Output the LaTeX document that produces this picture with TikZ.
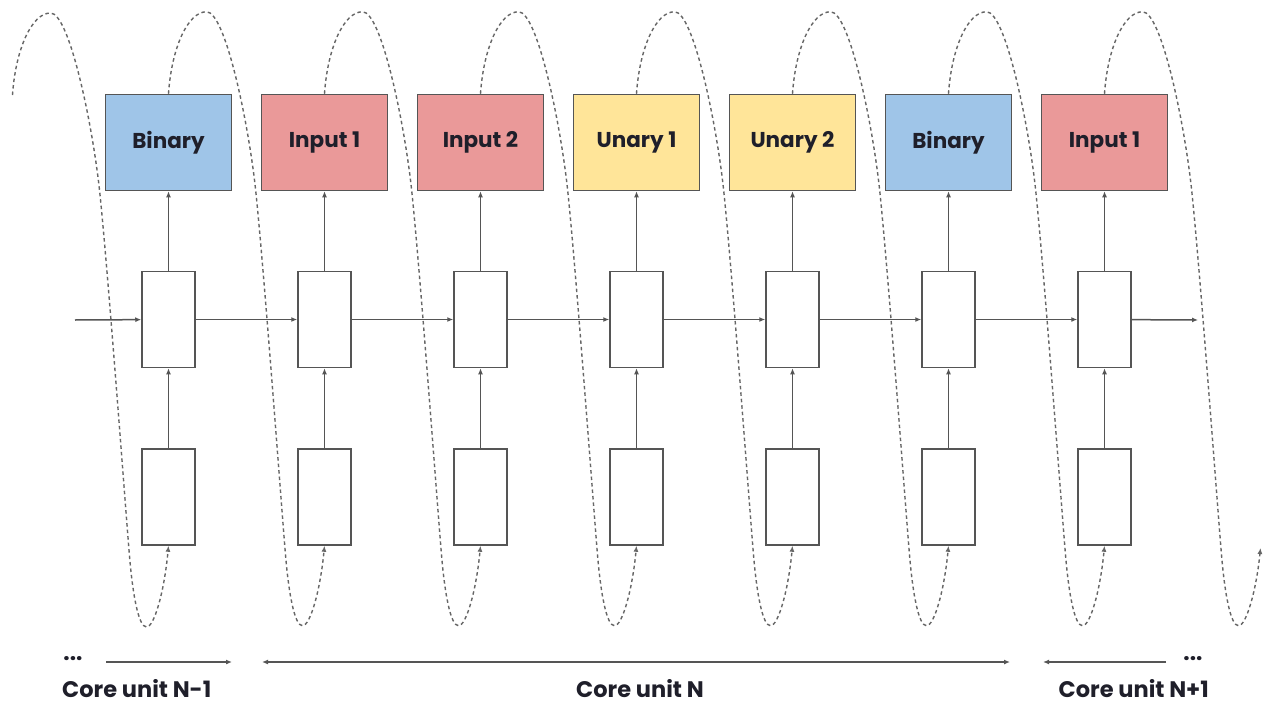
\documentclass[tikz,border=0pt]{standalone}
\usepackage{fontspec}
\setmainfont{Poppins}
\usetikzlibrary{arrows.meta,calc}
\definecolor{bluebox}{HTML}{9FC5E8}
\definecolor{redbox}{HTML}{EA9999}
\definecolor{yelbox}{HTML}{FFE599}
\definecolor{edge}{HTML}{555555}
\definecolor{txt}{HTML}{1F1F2A}
\definecolor{wavec}{HTML}{666666}
\newcommand{\wavefrom}[2]{%
 \draw[wave] (#1) .. controls ($(#1)+(3,-45)$) and ($(#1)+(19,-82)$) .. ($(#1)+(38,-82)$)
  .. controls ($(#1)+(57,-82)$) and ($(#1)+(80,30)$) .. ($(#1)+(87,95)$)
  .. controls ($(#1)+(95,170)$) and ($(#1)+(112,400)$) .. ($(#1)+(116.5,455)$)
  .. controls ($(#1)+(120,500)$) and ($(#1)+(126,532)$) .. ($(#1)+(134,532)$)
  .. controls ($(#1)+(142,532)$) and ($(#1)+(152,495)$) .. (#2);}
\begin{document}
\begin{tikzpicture}[x=1pt,y=-1pt,
  topbox/.style={draw=edge,line width=1.5pt,minimum width=126pt,minimum height=96pt,inner sep=0pt,
     font=\fontsize{21.5}{25}\selectfont\bfseries,text=txt},
  cell/.style={draw=edge,line width=1.5pt,fill=white,minimum width=53pt,minimum height=96pt,inner sep=0pt},
  conn/.style={draw=edge,line width=1.5pt,-{Latex[length=6pt,width=5pt]}},
  wave/.style={draw=wavec,line width=1.4pt,dash pattern=on 3.5pt off 3pt,-{Latex[length=6pt,width=5pt]}},
  lbl/.style={font=\fontsize{22.5}{26}\selectfont\bfseries,text=txt,inner sep=0pt}]
\useasboundingbox (0,0) rectangle (1275,704);
\fill[white] (0,0) rectangle (1275,704);
% columns
\foreach \i/\t/\c in {1/Binary/bluebox,2/Input 1/redbox,3/Input 2/redbox,4/Unary 1/yelbox,5/Unary 2/yelbox,6/Binary/bluebox,7/Input 1/redbox}{
  \pgfmathsetmacro{\cx}{168.5+156*(\i-1)}
  \node[topbox,fill=\c] (t\i) at (\cx,142.5) {\t};
  \node[cell] (m\i) at (\cx,319.5) {};
  \node[cell] (b\i) at (\cx,497) {};
  \draw[conn] (m\i) -- (t\i);
  \draw[conn] (b\i) -- (m\i);
}
% recurrent connections
\coordinate (hin) at (75,320);
\coordinate (hout) at (1198,320);
\draw[conn] (hin) -- (m1);
\foreach \i [evaluate=\i as \j using int(\i+1)] in {1,...,6}{
  \draw[conn] (m\i) -- (m\j);
}
\draw[conn] (m7) -- (hout);
% dashed autoregressive waves
\coordinate (t0) at (12.5,95);
\coordinate (b8) at (1260.5,548);
\wavefrom{t0}{b1.south}
\foreach \i [evaluate=\i as \j using int(\i+1)] in {1,...,6}{
  \wavefrom{t\i.north}{b\j.south}
}
\wavefrom{t7.north}{b8}
% bottom labels
\node[lbl] (d1) at (73,659) {...};
\node[lbl] (d2) at (1193,659) {...};
\coordinate (a1s) at (106,662);
\coordinate (a1e) at (232,662);
\coordinate (a2s) at (262,662);
\coordinate (a2e) at (1010,662);
\coordinate (a3s) at (1166,662);
\coordinate (a3e) at (1043,662);
\draw[conn] (a1s) -- (a1e);
\draw[conn,{Latex[length=6pt,width=5pt]}-{Latex[length=6pt,width=5pt]}] (a2s) -- (a2e);
\draw[conn] (a3s) -- (a3e);
\node[lbl,anchor=base west] (l1) at (62,697) {Core unit N-1};
\node[lbl,anchor=base] (l2) at (640,697) {Core unit N};
\node[lbl,anchor=base east] (l3) at (1209,697) {Core unit N+1};
\end{tikzpicture}
\end{document}
